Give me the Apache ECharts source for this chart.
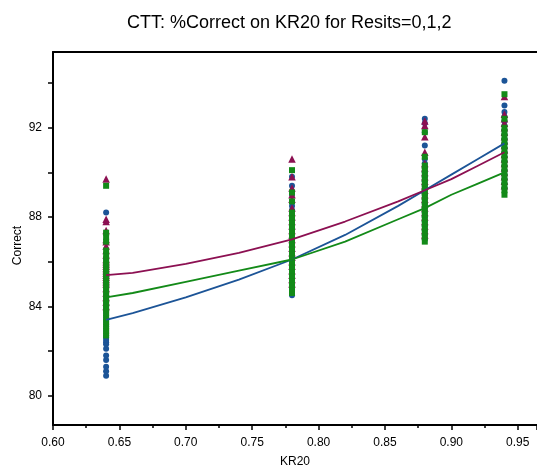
<!DOCTYPE html>
<html>
<head>
<meta charset="utf-8">
<script src="https://cdn.jsdelivr.net/npm/echarts@6/dist/echarts.min.js"></script>
<style>
  html, body { margin: 0; padding: 0; background: #fff; }
  #chart { width: 537px; height: 474px; }
</style>
</head>
<body>
<div id="chart"></div>
<script>
// KR20 levels at which the tests were sampled
const kr20Levels = [0.64, 0.78, 0.88, 0.94];

// %Correct per test, grouped by KR20 level (one list per level)
const correctResits0 = [
  [80.9, 81.1, 81.3, 81.6, 81.8, 82.1, 82.3, 82.4, 82.5, 82.6, 82.7, 82.9, 83.1, 83.3, 83.5, 83.7, 83.9, 84.1, 84.3, 84.5, 84.7, 84.9, 85.1, 85.3, 85.5, 85.7, 85.9, 86.1, 88.2],
  [84.5, 84.7, 84.9, 85.1, 85.3, 85.5, 85.7, 85.9, 86.1, 86.3, 86.5, 86.7, 86.9, 87.1, 87.3, 87.5, 87.7, 87.9, 88.1, 88.3, 88.5, 89.0, 89.4, 89.8],
  [87.0, 87.2, 87.4, 87.6, 87.8, 88.0, 88.2, 88.4, 88.6, 88.8, 89.0, 89.2, 89.4, 89.6, 89.8, 90.0, 90.2, 90.4, 90.6, 91.2, 91.8, 92.2, 92.4],
  [89.3, 89.5, 89.7, 89.9, 90.1, 90.3, 90.5, 90.7, 90.9, 91.1, 91.3, 91.5, 91.7, 91.9, 92.1, 92.3, 92.5, 92.7, 93.0, 94.1]
];
const correctResits1 = [
  [84.0, 84.2, 84.4, 84.6, 84.8, 85.0, 85.1, 85.2, 85.3, 85.4, 85.5, 85.6, 85.7, 85.8, 85.9, 86.0, 86.1, 86.3, 86.5, 86.7, 86.9, 87.0, 87.4, 87.8, 87.9, 89.7],
  [85.0, 85.2, 85.4, 85.6, 85.8, 86.0, 86.2, 86.4, 86.6, 86.8, 87.0, 87.2, 87.4, 87.6, 87.8, 88.0, 88.2, 88.4, 88.8, 89.0, 89.3, 89.8, 90.6],
  [87.2, 87.4, 87.6, 87.8, 88.0, 88.2, 88.4, 88.6, 88.8, 89.0, 89.2, 89.4, 89.6, 89.8, 90.0, 90.2, 90.4, 90.9, 91.6, 92.1, 92.3],
  [89.4, 89.6, 89.8, 90.0, 90.2, 90.4, 90.6, 90.8, 91.0, 91.2, 91.4, 91.6, 91.8, 92.0, 92.2, 92.4, 92.6, 93.4]
];
const correctResits2 = [
  [82.7, 82.9, 83.1, 83.3, 83.5, 83.7, 83.9, 84.1, 84.3, 84.5, 84.7, 84.9, 85.1, 85.3, 85.5, 85.7, 85.9, 86.1, 86.3, 86.5, 86.9, 87.1, 87.3, 89.4],
  [84.6, 84.8, 85.0, 85.2, 85.4, 85.6, 85.8, 86.0, 86.2, 86.4, 86.6, 86.8, 87.0, 87.2, 87.4, 87.6, 87.8, 88.0, 88.2, 88.7, 89.1, 90.1],
  [86.9, 87.1, 87.3, 87.5, 87.7, 87.9, 88.1, 88.3, 88.5, 88.7, 88.9, 89.1, 89.3, 89.5, 89.7, 89.9, 90.1, 90.3, 90.7, 91.8],
  [89.0, 89.2, 89.4, 89.6, 89.8, 90.0, 90.2, 90.4, 90.6, 90.8, 91.0, 91.2, 91.4, 91.6, 91.8, 92.0, 92.4, 93.5]
];

// Fitted curves of %Correct against KR20
const fitKr20 = [0.64, 0.66, 0.70, 0.74, 0.78, 0.82, 0.86, 0.88, 0.90, 0.92, 0.94];
const fitResits0 = [83.4, 83.7, 84.4, 85.2, 86.1, 87.2, 88.5, 89.2, 89.9, 90.6, 91.3];
const fitResits1 = [85.4, 85.5, 85.9, 86.4, 87.0, 87.8, 88.7, 89.2, 89.7, 90.3, 90.9];
const fitResits2 = [84.4, 84.6, 85.1, 85.6, 86.1, 86.9, 87.9, 88.4, 89.0, 89.5, 90.0];

// Axis ticks
const xTickStep = 0.05;
const yLabelValues = [80, 84, 88, 92];
const yTickValues = [80, 82, 84, 86, 88, 90, 92, 94];

const COLORS = { r0: '#1c5497', r1: '#8c1052', r2: '#138a18' };
const FONT = 'Liberation Sans, Arial, sans-serif';

function points(levels, groups) {
  const out = [];
  groups.forEach((vals, i) => vals.forEach(v => out.push([levels[i], v])));
  return out;
}
function pairs(xs, ys) { return xs.map((x, i) => [x, ys[i]]); }

const chart = echarts.init(document.getElementById('chart'), null, { renderer: 'canvas' });

const axisText = { color: '#000', fontFamily: FONT, fontSize: 12 };

chart.setOption({
  animation: false,
  backgroundColor: '#fff',
  title: {
    text: 'CTT: %Correct on KR20 for Resits=0,1,2',
    left: 122, top: 9,
    textStyle: { color: '#000', fontFamily: FONT, fontSize: 18, fontWeight: 'normal' }
  },
  grid: { left: 53, right: 0, top: 52, bottom: 49, containLabel: false, outerBoundsMode: 'none' },
  xAxis: [
    {
      type: 'value', min: 0.6, max: 0.9645, interval: xTickStep,
      name: 'KR20', nameLocation: 'middle', nameGap: 31,
      nameTextStyle: axisText,
      axisLine: { show: true, lineStyle: { color: '#000', width: 2 } },
      axisTick: { show: true, length: 5, lineStyle: { color: '#000', width: 1.5 } },
      minorTick: { show: true, splitNumber: 2, length: 3, lineStyle: { color: '#000', width: 1.5 } },
      axisLabel: { ...axisText, margin: 12, showMaxLabel: false, formatter: v => v.toFixed(2) },
      splitLine: { show: false }
    },
    {
      type: 'value', position: 'top', min: 0.6, max: 0.9645,
      axisLine: { show: true, lineStyle: { color: '#000', width: 2 } },
      axisTick: { show: false }, axisLabel: { show: false }, splitLine: { show: false }
    }
  ],
  yAxis: {
    type: 'value', min: 78.69, max: 95.39,
    name: 'Correct', nameLocation: 'middle', nameGap: 29, nameMoveOverlap: false,
    nameTextStyle: { ...axisText, padding: [0, 14, 0, 0] },
    axisLine: { show: true, lineStyle: { color: '#000', width: 2 } },
    axisTick: { show: true, length: 5, customValues: yTickValues, lineStyle: { color: '#000', width: 1.5 } },
    axisLabel: { ...axisText, margin: 11, customValues: yLabelValues },
    splitLine: { show: false }
  },
  series: [
    { name: 'Resits=0 fit', type: 'line', data: pairs(fitKr20, fitResits0), symbol: 'none',
      lineStyle: { color: COLORS.r0, width: 1.8 } },
    { name: 'Resits=1 fit', type: 'line', data: pairs(fitKr20, fitResits1), symbol: 'none',
      lineStyle: { color: COLORS.r1, width: 1.8 } },
    { name: 'Resits=2 fit', type: 'line', data: pairs(fitKr20, fitResits2), symbol: 'none',
      lineStyle: { color: COLORS.r2, width: 1.8 } },
    { name: 'Resits=0', type: 'scatter', data: points(kr20Levels, correctResits0),
      symbol: 'circle', symbolSize: 6, itemStyle: { color: COLORS.r0, opacity: 1 } },
    { name: 'Resits=1', type: 'scatter', data: points(kr20Levels, correctResits1),
      symbol: 'triangle', symbolSize: 7.5, itemStyle: { color: COLORS.r1, opacity: 1 } },
    { name: 'Resits=2', type: 'scatter', data: points(kr20Levels, correctResits2),
      symbol: 'rect', symbolSize: 6, itemStyle: { color: COLORS.r2, opacity: 1 } }
  ]
});
</script>
</body>
</html>
